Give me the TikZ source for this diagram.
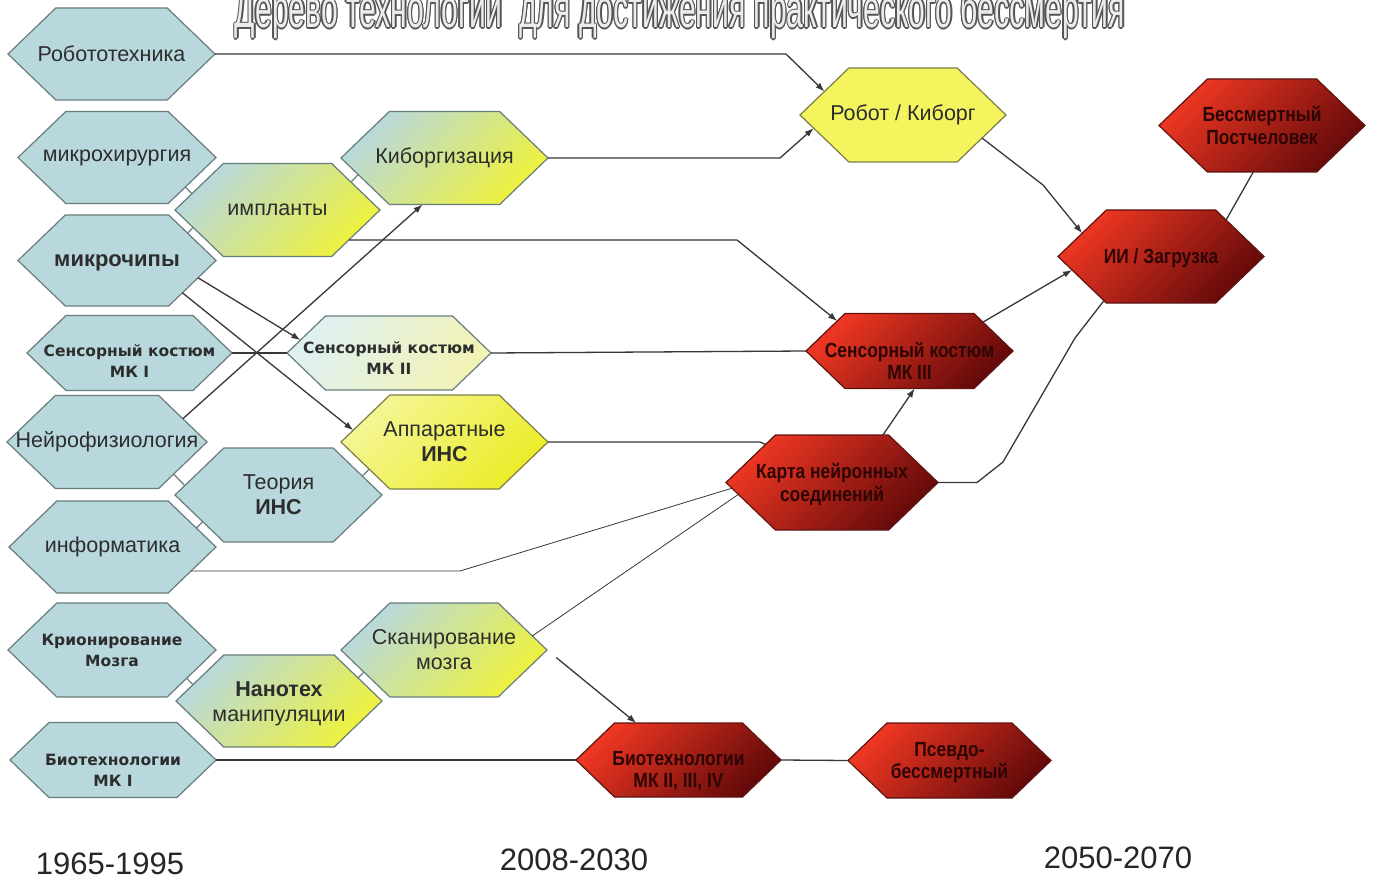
\documentclass[tikz,border=0pt]{standalone}
\usepackage{fontspec}
\setmainfont{Liberation Sans}
\newfontfamily\narfont{Liberation Sans}[FakeStretch=0.85]
\newfontfamily\tahfont{DejaVu Sans}
\usetikzlibrary{arrows.meta,calc}

\definecolor{cyanc}{RGB}{184,216,222}
\definecolor{yelc}{RGB}{238,242,60}
\definecolor{midc}{RGB}{214,232,160}
\definecolor{paleA}{RGB}{222,240,242}
\definecolor{paleB}{RGB}{242,242,180}
\definecolor{yelA}{RGB}{244,246,150}
\definecolor{yelB}{RGB}{236,236,40}
\definecolor{robkc}{RGB}{244,244,95}
\definecolor{redA}{RGB}{238,55,34}
\definecolor{redM}{RGB}{205,32,22}
\definecolor{redB}{RGB}{100,10,10}
\definecolor{bordc}{RGB}{105,125,125}
\definecolor{yelbord}{RGB}{125,125,70}
\definecolor{redbord}{RGB}{95,20,20}
\definecolor{txtc}{RGB}{45,45,45}
\definecolor{redtxt}{RGB}{45,5,5}
\definecolor{linec}{RGB}{55,55,55}
\definecolor{titleout}{RGB}{85,85,85}
\definecolor{titlein}{RGB}{236,236,236}

\newcommand\txreg{\fontsize{21.5}{25}\selectfont}
\newcommand\txtah{\tahfont\bfseries\fontsize{15.5}{21}\selectfont}
\newcommand\txred{\narfont\bfseries\fontsize{20.5}{22.5}\selectfont}
\newcommand\ttltext{\resizebox{890pt}{40pt}{\fontsize{50}{50}\selectfont Дерево технологий\ \ для достижения практического бессмертия}}

% name, cx, cy, width, height, shape style, text style, text
\newcommand\hexnode[8]{%
  \pgfmathsetmacro\hxa{#4/2}%
  \pgfmathsetmacro\hya{#5/2}%
  \pgfmathsetmacro\hia{#5*0.52}%
  \coordinate (#1-w) at (#2-\hxa,#3);
  \coordinate (#1-e) at (#2+\hxa,#3);
  \coordinate (#1-nw) at (#2-\hxa+\hia,#3-\hya);
  \coordinate (#1-ne) at (#2+\hxa-\hia,#3-\hya);
  \coordinate (#1-sw) at (#2-\hxa+\hia,#3+\hya);
  \coordinate (#1-se) at (#2+\hxa-\hia,#3+\hya);
  \path[#6] (#1-w) -- (#1-nw) -- (#1-ne) -- (#1-e) -- (#1-se) -- (#1-sw) -- cycle;
  \node[lbl,#7] (#1) at (#2,#3) {#8};
}

\tikzset{
  lbl/.style={align=center, text=txtc, inner sep=0pt},
  rg/.style={font=\txreg},
  th/.style={font=\txtah},
  rt/.style={font=\txred, text=redtxt},
  bchip/.style={font=\fontsize{22}{26}\selectfont\bfseries},
  hexcyan/.style={fill=cyanc, draw=bordc, line width=1.2pt},
  hexgrad/.style={top color=cyanc, middle color=midc, bottom color=yelc, shading angle=45, draw=bordc, line width=1.2pt},
  hexpale/.style={top color=paleA, bottom color=paleB, shading angle=60, draw=bordc, line width=1.2pt},
  hexyel/.style={top color=yelA, bottom color=yelB, shading angle=45, draw=yelbord, line width=1.2pt},
  hexrobk/.style={fill=robkc, draw=yelbord, line width=1.2pt},
  hexred/.style={top color=redA, middle color=redM, bottom color=redB, shading angle=45, draw=redbord, line width=1.2pt},
  conn/.style={draw=linec, line width=1.3pt},
  thinconn/.style={draw=linec, line width=0.8pt},
  arr/.style={conn, -{Latex[length=9pt,width=6.5pt]}},
  tickln/.style={draw=bordc, line width=1.2pt},
  yr/.style={anchor=base, text=black!85, font=\fontsize{31}{32}\selectfont, inner sep=0pt}
}

\begin{document}
\begin{tikzpicture}[x=1pt,y=-1pt]
\clip (0,0) rectangle (1375,877);
\fill[white] (0,0) rectangle (1375,877);

% title (outlined lettering)
\foreach \a in {0,45,...,315}
  \node[anchor=base, text=titleout, inner sep=0pt] at ($(680,28)+(\a:1.4)$) {\ttltext};
\node[anchor=base, text=titlein, inner sep=0pt] (title) at (680,28) {\ttltext};

% hexagons
\hexnode{robo}{111.5}{54}{207}{92}{hexcyan}{rg}{Робототехника}
\hexnode{mhir}{117}{157.5}{198}{92}{hexcyan}{rg}{микрохирургия}
\hexnode{chip}{117}{260.5}{198}{91}{hexcyan}{bchip,yshift=-2pt}{микрочипы}
\hexnode{impl}{277.5}{210}{205}{93}{hexgrad}{rg}{импланты}
\hexnode{kib}{444.5}{158}{207}{93}{hexgrad}{rg}{Киборгизация}
\hexnode{sa}{129.5}{353}{205}{75}{hexcyan}{th,yshift=-8pt}{Сенсорный костюм\\МК I}
\hexnode{sb}{389}{353}{204}{74}{hexpale}{th,yshift=-5pt}{Сенсорный костюм\\МК II}
\hexnode{neuro}{107}{442}{200}{93}{hexcyan}{rg}{Нейрофизиология}
\hexnode{teor}{278.5}{495}{207}{94}{hexcyan}{rg}{Теория\\\textbf{ИНС}}
\hexnode{appar}{444.5}{442}{207}{94}{hexyel}{rg}{Аппаратные\\\textbf{ИНС}}
\hexnode{inf}{112.5}{547}{207}{92}{hexcyan}{rg}{информатика}
\hexnode{krio}{112}{650}{208}{94}{hexcyan}{th}{Крионирование\\Мозга}
\hexnode{nano}{279}{701}{206}{92}{hexgrad}{rg,yshift=-3pt}{\textbf{Нанотех}\\манипуляции}
\hexnode{scan}{444}{650}{206}{94}{hexgrad}{rg}{Сканирование\\мозга}
\hexnode{bioa}{113}{760}{206}{75}{hexcyan}{th,yshift=-10pt}{Биотехнологии\\МК I}
\hexnode{robk}{903}{115}{206}{94}{hexrobk}{rg}{Робот / Киборг}
\hexnode{sc}{909.5}{351}{207}{75}{hexred}{rt,yshift=-10pt}{Сенсорный костюм\\МК III}
\hexnode{karta}{832}{482.5}{212}{95}{hexred}{rt,yshift=-2pt}{Карта нейронных\\соединений}
\hexnode{biob}{678.5}{760}{205}{74}{hexred}{rt,yshift=-11pt}{Биотехнологии\\МК II, III, IV}
\hexnode{pseudo}{949.5}{760.5}{203}{75}{hexred}{rt,yshift=-2pt}{Псевдо-\\бессмертный}
\hexnode{ai}{1161}{256.5}{206}{93}{hexred}{rt,yshift=-2pt}{ИИ / Загрузка}
\hexnode{imm}{1262}{125.5}{206}{93}{hexred}{rt}{Бессмертный\\Постчеловек}

% small links between neighbouring cells
\coordinate (k1) at ($(mhir-e)!0.64!(mhir-se)$);
\draw[tickln] (k1) -- ($(impl-w)!(k1)!(impl-nw)$);
\coordinate (k2) at ($(chip-ne)!0.4!(chip-e)$);
\draw[tickln] (k2) -- ($(impl-sw)!(k2)!(impl-w)$);
\coordinate (k3) at ($(impl-ne)!0.4!(impl-e)$);
\draw[tickln] (k3) -- ($(kib-w)!(k3)!(kib-sw)$);
\coordinate (k4) at ($(neuro-e)!0.69!(neuro-se)$);
\draw[tickln] (k4) -- ($(teor-w)!(k4)!(teor-nw)$);
\coordinate (k5) at ($(inf-ne)!0.59!(inf-e)$);
\draw[tickln] (k5) -- ($(teor-w)!(k5)!(teor-sw)$);
\coordinate (k6) at ($(teor-ne)!0.6!(teor-e)$);
\draw[tickln] (k6) -- ($(appar-w)!(k6)!(appar-sw)$);
\coordinate (k7) at ($(krio-e)!0.6!(krio-se)$);
\draw[tickln] (k7) -- ($(nano-w)!(k7)!(nano-nw)$);
\coordinate (k8) at ($(nano-ne)!0.5!(nano-e)$);
\draw[tickln] (k8) -- ($(scan-w)!(k8)!(scan-sw)$);

% connectors
\draw[arr] (robo-e) -- (786,54) -- ($(robk-w)!0.5!(robk-nw)$);
\draw[arr] (kib-e) -- (780,158) -- ($(robk-w)!0.28!(robk-sw)$);
\draw[arr] ($(robk-e)!0.49!(robk-se)$) -- (1043,185) -- ($(ai-w)!0.5!(ai-nw)$);
\draw[arr] ($(impl-e)!0.645!(impl-se)$) -- (737,240) -- ($(sc-w)!0.8!(sc-nw)$);
\draw[arr] ($(sc-ne)!0.23!(sc-e)$) -- ($(ai-w)!0.29!(ai-sw)$);
\draw[arr] ($(chip-e)!0.38!(chip-se)$) -- ($(sb-w)!0.35!(sb-nw)$);
\draw[arr] ($(chip-e)!0.71!(chip-se)$) -- ($(appar-w)!0.25!(appar-nw)$);
\draw[arr] ($(neuro-ne)!0.5!(neuro-e)$) -- ($(kib-sw)!0.3!(kib-se)$);
\draw[conn] (sa-e) -- (sb-w);
\draw[conn] (sb-e) -- (sc-w);
\draw[conn] (appar-e) -- (760,442) -- ($(karta-w)!0.8!(karta-nw)$);
\draw[arr] ($(karta-nw)!0.95!(karta-ne)$) -- ($(sc-sw)!0.54!(sc-se)$);
\draw[conn] (karta-e) -- (977,482.5) -- (1003,462) -- (1075,338) -- ($(ai-sw)!0.05!(ai-w)$);
\draw[thinconn] ($(inf-e)!0.52!(inf-se)$) -- (460,571) -- ($(karta-w)!0.12!(karta-sw)$);
\draw[thinconn] ($(scan-ne)!0.7!(scan-e)$) -- ($(karta-w)!0.25!(karta-sw)$);
\draw[arr, shorten <=12pt] (scan-e) -- ($(biob-nw)!0.17!(biob-ne)$);
\draw[conn] (bioa-e) -- (biob-w);
\draw[conn] (biob-e) -- (pseudo-w);
\draw[conn] ($(ai-ne)!0.215!(ai-e)$) -- ($(imm-sw)!0.42!(imm-se)$);

% period labels
\node[yr] (ya) at (110,874) {1965-1995};
\node[yr] (yb) at (574,870) {2008-2030};
\node[yr] (yc) at (1118,868) {2050-2070};
\end{tikzpicture}
\end{document}
